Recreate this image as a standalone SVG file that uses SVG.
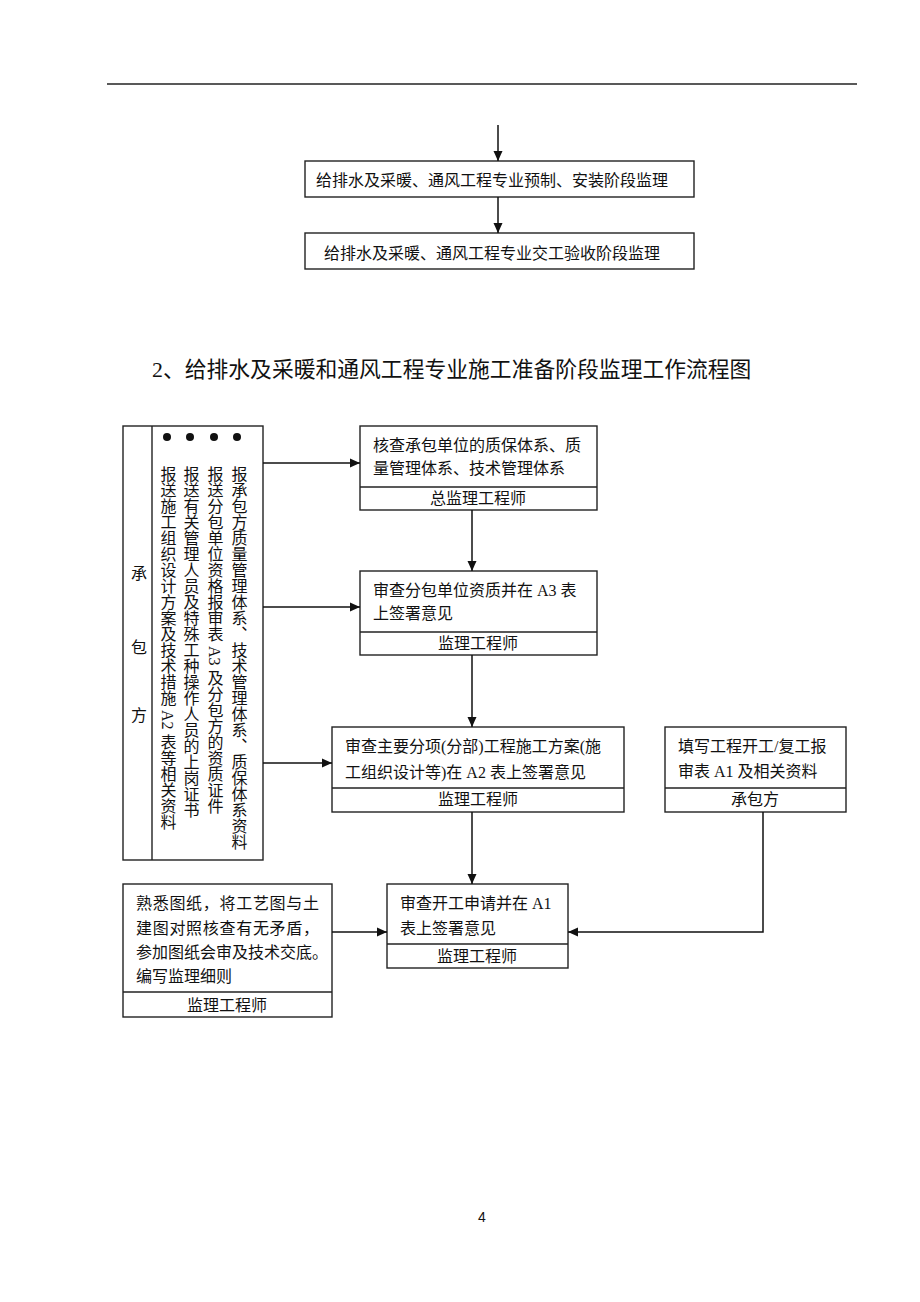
<svg xmlns="http://www.w3.org/2000/svg" width="920" height="1302" viewBox="0 0 920 1302">
<style>
text{font-family:"Liberation Serif","Noto Sans CJK SC",serif;fill:#111;font-size:16px}
.c{text-anchor:middle}
.box{fill:#fff;stroke:#222;stroke-width:1.4}
.div{stroke:#222;stroke-width:1.4}
.con{fill:none;stroke:#111;stroke-width:1.5}
.v{writing-mode:vertical-rl}
</style>
<defs>
<marker id="ah" markerUnits="userSpaceOnUse" markerWidth="10" markerHeight="10" refX="10" refY="5" orient="auto">
<path d="M0,0.5 L10,5 L0,9.5 z" fill="#111"/>
</marker>
</defs>
<rect width="920" height="1302" fill="#fff"/>
<line x1="107" y1="84" x2="857" y2="84" stroke="#222" stroke-width="1.5"/>

<g id="n_prefab">
<rect class="box" x="305" y="161" width="389" height="36"/>
<text class="c" x="492" y="186">给排水及采暖、通风工程专业预制、安装阶段监理</text>
</g>
<g id="n_accept">
<rect class="box" x="305" y="233" width="389" height="36"/>
<text class="c" x="492" y="259">给排水及采暖、通风工程专业交工验收阶段监理</text>
</g>

<text id="title" x="152" y="377" style="font-size:21.8px">2、给排水及采暖和通风工程专业施工准备阶段监理工作流程图</text>

<g id="n_contractor_left">
<rect class="box" x="123" y="426" width="140" height="434"/>
<line class="div" x1="152" y1="426" x2="152" y2="860"/>
<text class="c" x="139" y="579">承</text>
<text class="c" x="139" y="653">包</text>
<text class="c" x="139" y="721">方</text>
<circle cx="167" cy="437" r="4" fill="#111"/>
<circle cx="190" cy="437" r="4" fill="#111"/>
<circle cx="214" cy="437" r="4" fill="#111"/>
<circle cx="237" cy="437" r="4" fill="#111"/>
<text class="v" x="238" y="466">报承包方质量管理体系、技术管理体系、质保体系资料</text>
<text class="v" x="214" y="466">报送分包单位资格报审表 A3 及分包方的资质证件</text>
<text class="v" x="190" y="466">报送有关管理人员及特殊工种操作人员的上岗证书</text>
<text class="v" x="167" y="466">报送施工组织设计方案及技术措施 A2 表等相关资料</text>
</g>

<g id="n_check_system">
<rect class="box" x="360" y="426" width="237" height="84"/>
<line class="div" x1="360" y1="487" x2="597" y2="487"/>
<text x="373" y="451">核查承包单位的质保体系、质</text>
<text x="373" y="474">量管理体系、技术管理体系</text>
<text class="c" x="478" y="504">总监理工程师</text>
</g>

<g id="n_check_sub">
<rect class="box" x="360" y="571" width="237" height="84"/>
<line class="div" x1="360" y1="632" x2="597" y2="632"/>
<text x="373" y="596">审查分包单位资质并在 A3 表</text>
<text x="373" y="619">上签署意见</text>
<text class="c" x="478" y="649">监理工程师</text>
</g>

<g id="n_check_plan">
<rect class="box" x="332" y="727" width="292" height="85"/>
<line class="div" x1="332" y1="788" x2="624" y2="788"/>
<text x="345" y="752">审查主要分项(分部)工程施工方案(施</text>
<text x="345" y="778">工组织设计等)在 A2 表上签署意见</text>
<text class="c" x="478" y="805">监理工程师</text>
</g>

<g id="n_fill_form">
<rect class="box" x="665" y="727" width="181" height="85"/>
<line class="div" x1="665" y1="788" x2="846" y2="788"/>
<text x="678" y="752">填写工程开工/复工报</text>
<text x="678" y="777">审表 A1 及相关资料</text>
<text class="c" x="755" y="805">承包方</text>
</g>

<g id="n_check_start">
<rect class="box" x="387" y="884" width="181" height="84"/>
<line class="div" x1="387" y1="944" x2="568" y2="944"/>
<text x="400" y="909">审查开工申请并在 A1</text>
<text x="400" y="934">表上签署意见</text>
<text class="c" x="477" y="962">监理工程师</text>
</g>

<g id="n_drawings">
<rect class="box" x="123" y="884" width="209" height="133"/>
<line class="div" x1="123" y1="992" x2="332" y2="992"/>
<text x="136" y="909" textLength="183">熟悉图纸，将工艺图与土</text>
<text x="136" y="934" textLength="183">建图对照核查有无矛盾，</text>
<text x="136" y="958">参加图纸会审及技术交底。</text>
<text x="136" y="982">编写监理细则</text>
<text class="c" x="227" y="1011">监理工程师</text>
</g>

<g id="connectors">
<line class="con" x1="498" y1="125" x2="498" y2="161" marker-end="url(#ah)"/>
<line class="con" x1="498" y1="197" x2="498" y2="233" marker-end="url(#ah)"/>
<line class="con" x1="263" y1="463" x2="360" y2="463" marker-end="url(#ah)"/>
<line class="con" x1="263" y1="607" x2="360" y2="607" marker-end="url(#ah)"/>
<line class="con" x1="263" y1="763" x2="332" y2="763" marker-end="url(#ah)"/>
<line class="con" x1="472" y1="510" x2="472" y2="571" marker-end="url(#ah)"/>
<line class="con" x1="472" y1="655" x2="472" y2="727" marker-end="url(#ah)"/>
<line class="con" x1="472" y1="812" x2="472" y2="884" marker-end="url(#ah)"/>
<polyline class="con" points="763,812 763,932 568,932" marker-end="url(#ah)"/>
<line class="con" x1="332" y1="932" x2="387" y2="932" marker-end="url(#ah)"/>
</g>

<text id="page" class="c" x="482" y="1222" style="font-family:'Liberation Sans',sans-serif;font-size:14px">4</text>
</svg>
